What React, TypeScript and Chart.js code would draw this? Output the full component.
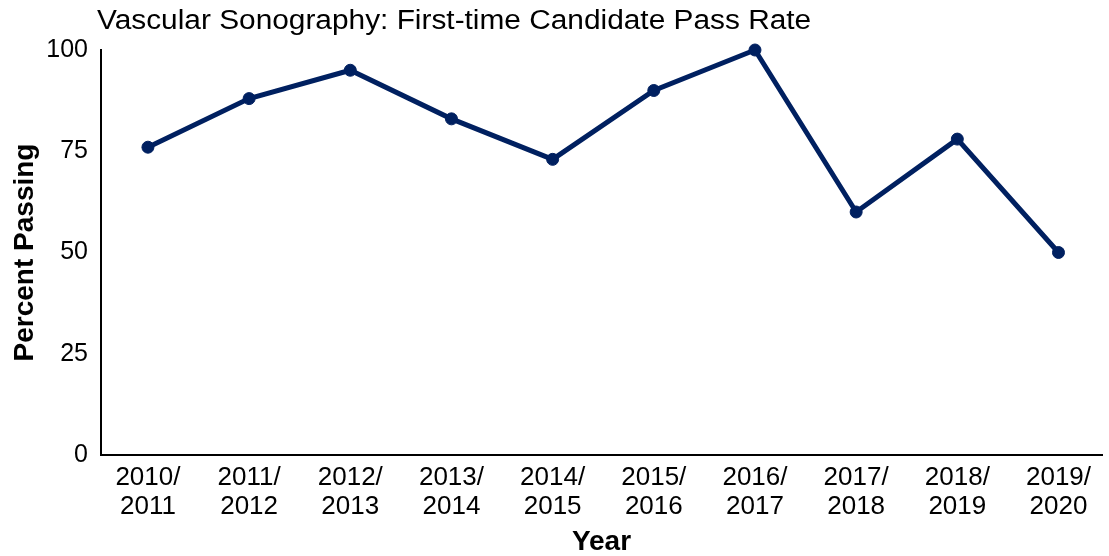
import React, { useEffect, useRef } from "react";
import { Chart, registerables } from "chart.js";

Chart.register(...registerables);

const chartTitle = "Vascular Sonography: First-time Candidate Pass Rate";
const categories = [
  "2010/2011", "2011/2012", "2012/2013", "2013/2014", "2014/2015",
  "2015/2016", "2016/2017", "2017/2018", "2018/2019", "2019/2020",
];
const tickLabels = [
  ["2010/", "2011"], ["2011/", "2012"], ["2012/", "2013"], ["2013/", "2014"], ["2014/", "2015"],
  ["2015/", "2016"], ["2016/", "2017"], ["2017/", "2018"], ["2018/", "2019"], ["2019/", "2020"],
];
const passRate = [76, 88, 95, 83, 73, 90, 100, 60, 78, 50];
const yTicks = [0, 25, 50, 75, 100];

const FONT = '"Liberation Sans", Arial, sans-serif';
const NAVY = "#002060";

export default function App() {
  const ref = useRef<HTMLCanvasElement | null>(null);

  useEffect(() => {
    if (!ref.current) return;
    const titlePlugin = {
      id: "customTitle",
      afterDraw(chart: any) {
        const ctx = chart.ctx;
        ctx.save();
        ctx.font = `27px ${FONT}`;
        ctx.fillStyle = "#000";
        ctx.textBaseline = "alphabetic";
        ctx.textAlign = "left";
        ctx.translate(97, 29);
        ctx.scale(1.105, 1);
        ctx.fillText(chartTitle, 0, 0);
        ctx.restore();
      },
    };
    const chart = new Chart(ref.current, {
      type: "line",
      data: {
        datasets: [
          {
            label: "Percent Passing",
            data: passRate.map((v, i) => ({ x: i, y: v })),
            borderColor: NAVY,
            backgroundColor: NAVY,
            borderWidth: 5,
            pointRadius: 6,
            pointBorderWidth: 1,
            pointBackgroundColor: NAVY,
            pointBorderColor: NAVY,
            tension: 0,
            clip: false as any,
          },
        ],
      },
      options: {
        animation: false,
        responsive: false,
        devicePixelRatio: 1,
        layout: { padding: { top: 50, left: 0, right: 0, bottom: 0 } },
        plugins: {
          legend: { display: false },
          title: { display: false },
          tooltip: { enabled: false },
        },
        scales: {
          x: {
            type: "linear",
            min: -0.464,
            max: 9.43,
            afterBuildTicks(scale: any) {
              scale.ticks = categories.map((_, i) => ({ value: i }));
            },
            afterFit(scale: any) {
              scale.height = 101;
            },
            grid: { display: false, drawTicks: false },
            border: { display: true, color: "#000", width: 2 },
            ticks: {
              autoSkip: false,
              maxRotation: 0,
              minRotation: 0,
              padding: 8,
              color: "#000",
              font: { family: FONT, size: 26, lineHeight: 1.12 },
              callback: (value: any) => tickLabels[value as number] ?? "",
            },
            title: {
              display: true,
              text: "Year",
              color: "#000",
              font: { family: FONT, size: 28, weight: "bold", lineHeight: 1.0 },
              padding: { top: 0, bottom: 0 },
            },
          },
          y: {
            min: 0,
            max: 100,
            afterBuildTicks(scale: any) {
              scale.ticks = yTicks.map((v) => ({ value: v }));
            },
            afterFit(scale: any) {
              scale.width = 101;
            },
            grid: { display: false, drawTicks: false },
            border: { display: true, color: "#000", width: 2 },
            ticks: {
              padding: 13,
              color: "#000",
              font: { family: FONT, size: 25 },
            },
            title: {
              display: true,
              text: "Percent Passing",
              color: "#000",
              font: { family: FONT, size: 28, weight: "bold", lineHeight: 1.2 },
              padding: { top: 8, bottom: 0 },
            },
          },
        },
      },
      plugins: [titlePlugin],
    } as any);
    return () => chart.destroy();
  }, []);

  return (
    <div style={{ position: "absolute", left: 0, top: 0, width: 1109, height: 556, background: "#fff" }}>
      <canvas ref={ref} width={1109} height={556} style={{ display: "block" }} />
    </div>
  );
}
